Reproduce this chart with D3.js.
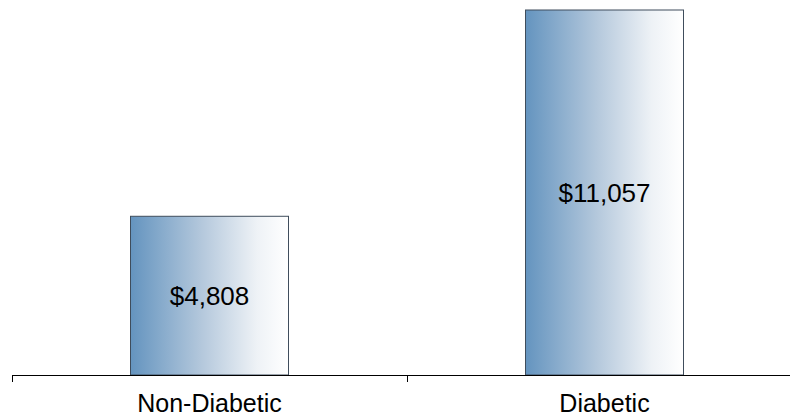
<!DOCTYPE html>
<html lang="en">
<head>
  <meta charset="utf-8">
  <script src="https://d3js.org/d3.v7.min.js"></script>
  <style>
    html, body { margin: 0; padding: 0; background: #fff; }
    svg text { font-family: "Liberation Sans", Arial, sans-serif; fill: #000; }
  </style>
</head>
<body>
  <div id="chart"></div>
  <script>
    // chart data
    const categories = ["Non-Diabetic", "Diabetic"];
    const costs = [4808, 11057];
    const labels = ["$4,808", "$11,057"];

    const width = 790, height = 418;
    const margin = {top: 10, left: 12, bottom: 43};
    const baseY = height - margin.bottom;   // axis line

    const svg = d3.select("#chart").append("svg")
      .attr("width", width)
      .attr("height", height);

    // horizontal gradient, blue to white
    const grad = svg.append("defs").append("linearGradient")
      .attr("id", "barGrad")
      .attr("x1", "0%").attr("x2", "100%")
      .attr("y1", "0%").attr("y2", "0%");
    grad.append("stop").attr("offset", "0%").attr("stop-color", "#6494bf");
    grad.append("stop").attr("offset", "45%").attr("stop-color", "#b4c8dc");
    grad.append("stop").attr("offset", "80%").attr("stop-color", "#eef2f6");
    grad.append("stop").attr("offset", "100%").attr("stop-color", "#ffffff");

    // band scale: each band is 395px wide, bars are 40% of it
    const x = d3.scaleBand()
      .domain(categories)
      .range([margin.left, margin.left + 395 * 2])
      .paddingInner(0)
      .paddingOuter(0);

    const barW = x.bandwidth() * 0.4;

    const y = d3.scaleLinear()
      .domain([0, d3.max(costs)])
      .range([baseY, margin.top]);

    const data = categories.map((c, i) => ({cat: c, cost: costs[i], label: labels[i]}));

    svg.selectAll("rect.bar")
      .data(data)
      .enter()
      .append("rect")
      .attr("class", "bar")
      .attr("x", d => x(d.cat) + (x.bandwidth() - barW) / 2)
      .attr("y", d => y(d.cost))
      .attr("width", barW)
      .attr("height", d => baseY - y(d.cost))
      .attr("fill", "url(#barGrad)")
      .attr("stroke", "#3f4d5c")
      .attr("stroke-width", 1);

    // value labels in middle of bars
    svg.selectAll("text.val")
      .data(data)
      .enter()
      .append("text")
      .attr("class", "val")
      .attr("x", d => x(d.cat) + x.bandwidth() / 2)
      .attr("y", d => (y(d.cost) + baseY) / 2)
      .attr("dy", "0.35em")
      .attr("text-anchor", "middle")
      .style("font-size", "26px")
      .text(d => d.label);

    // x axis
    const axis = svg.append("g")
      .attr("transform", "translate(0," + baseY + ")");
    axis.append("line")
      .attr("x1", margin.left).attr("x2", width)
      .attr("y1", 0.5).attr("y2", 0.5)
      .attr("stroke", "#000");
    axis.selectAll("line.tick")
      .data(categories.concat(["end"]))
      .enter()
      .append("line")
      .attr("class", "tick")
      .attr("x1", (d, i) => Math.round(margin.left + i * x.bandwidth()) + 0.5)
      .attr("x2", (d, i) => Math.round(margin.left + i * x.bandwidth()) + 0.5)
      .attr("y1", 0).attr("y2", 7)
      .attr("stroke", "#000");
    axis.selectAll("text")
      .data(categories)
      .enter()
      .append("text")
      .attr("x", d => x(d) + x.bandwidth() / 2)
      .attr("y", 37)
      .attr("text-anchor", "middle")
      .style("font-size", "25px")
      .text(d => d);
  </script>
</body>
</html>
